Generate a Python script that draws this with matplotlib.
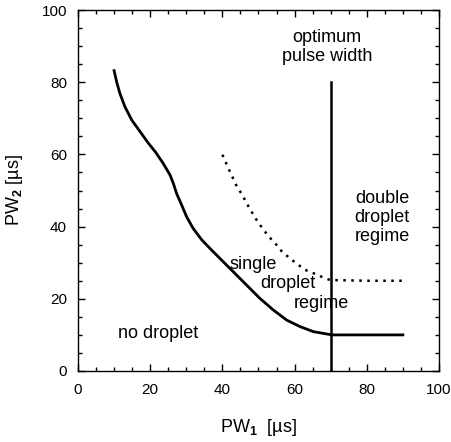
import numpy as np
import matplotlib.pyplot as plt

plt.rcParams['font.family'] = ['Liberation Sans', 'DejaVu Sans']
plt.rcParams['mathtext.fontset'] = 'custom'
plt.rcParams['mathtext.rm'] = 'Liberation Sans'
plt.rcParams['mathtext.bf'] = 'Liberation Sans:bold'

# boundary between no droplet and single droplet
pw1_lower = [10.0, 10.7, 11.6, 13.0, 14.9, 17.2, 19.5, 21.5, 23.6, 25.5, 26.4, 27.3,
             28.7, 30.1, 31.9, 34.3, 37.0, 39.8, 43.0, 46.7, 50.4, 54.1, 57.8, 61.5,
             65.2, 69.8, 70.0, 80.0, 90.0]
pw2_lower = [83.2, 80.1, 76.9, 73.2, 69.5, 66.3, 63.1, 60.6, 57.5, 54.3, 52.0, 49.2,
             46.0, 42.7, 39.5, 36.3, 33.5, 30.7, 27.5, 23.8, 20.1, 16.9, 14.1, 12.3,
             10.9, 10.1, 10.0, 10.0, 10.0]

# boundary between single and double droplet
pw1_upper = [40.0, 42.1, 44.0, 45.5, 46.7, 48.1, 49.5, 51.1, 52.9, 54.6, 56.4, 58.7,
             61.0, 63.4, 65.2, 67.5, 69.8, 80.0, 90.0]
pw2_upper = [59.9, 55.2, 51.1, 48.8, 46.5, 44.1, 41.8, 39.5, 37.2, 35.4, 33.2, 31.2,
             29.4, 27.8, 27.1, 26.1, 25.2, 25.0, 25.0]

# optimum pulse width
pw1_opt = [70, 70]
pw2_opt = [0, 80]

fig = plt.figure(figsize=(4.52, 4.42), dpi=100)
ax = fig.add_axes([78/452, 1-371/442, 361/452, 361/442])

ax.plot(pw1_lower, pw2_lower, color='black', lw=2.0, solid_joinstyle='round')
ax.plot(pw1_upper, pw2_upper, color='black', lw=1.8, linestyle=(0, (1, 2.2)))
ax.plot(pw1_opt, pw2_opt, color='black', lw=1.8)

ax.set_xlim(0, 100)
ax.set_ylim(0, 100)
ax.set_xticks(np.arange(0, 101, 20))
ax.set_yticks(np.arange(0, 101, 20))
ax.set_xticks(np.arange(0, 101, 5), minor=True)
ax.set_yticks(np.arange(0, 101, 5), minor=True)
ax.tick_params(which='both', direction='in', top=True, right=True, labelsize=11)
ax.tick_params(which='major', length=5, width=1)
ax.tick_params(which='minor', length=3, width=1)
ax.tick_params(axis='x', pad=9)
ax.tick_params(axis='y', pad=8)
for s in ax.spines.values():
    s.set_linewidth(1)

ax.set_xlabel('PW$_\\mathbf{1}$  [µs]', fontsize=13, labelpad=14)
ax.set_ylabel('PW$_\\mathbf{2}$ [µs]', fontsize=13, labelpad=12)

fs = 13
ax.text(68.9, 89.7, 'optimum\npulse width', ha='center', va='center', fontsize=fs, linespacing=1.15)
ax.text(84.2, 42.4, 'double\ndroplet\nregime', ha='center', va='center', fontsize=fs, linespacing=1.15)
ax.text(48.5, 29.5, 'single', ha='center', va='center', fontsize=fs)
ax.text(58.2, 24.2, 'droplet', ha='center', va='center', fontsize=fs)
ax.text(67.3, 18.6, 'regime', ha='center', va='center', fontsize=fs)
ax.text(22.2, 10.5, 'no droplet', ha='center', va='center', fontsize=fs)

fig.savefig('out.png', dpi=100)
